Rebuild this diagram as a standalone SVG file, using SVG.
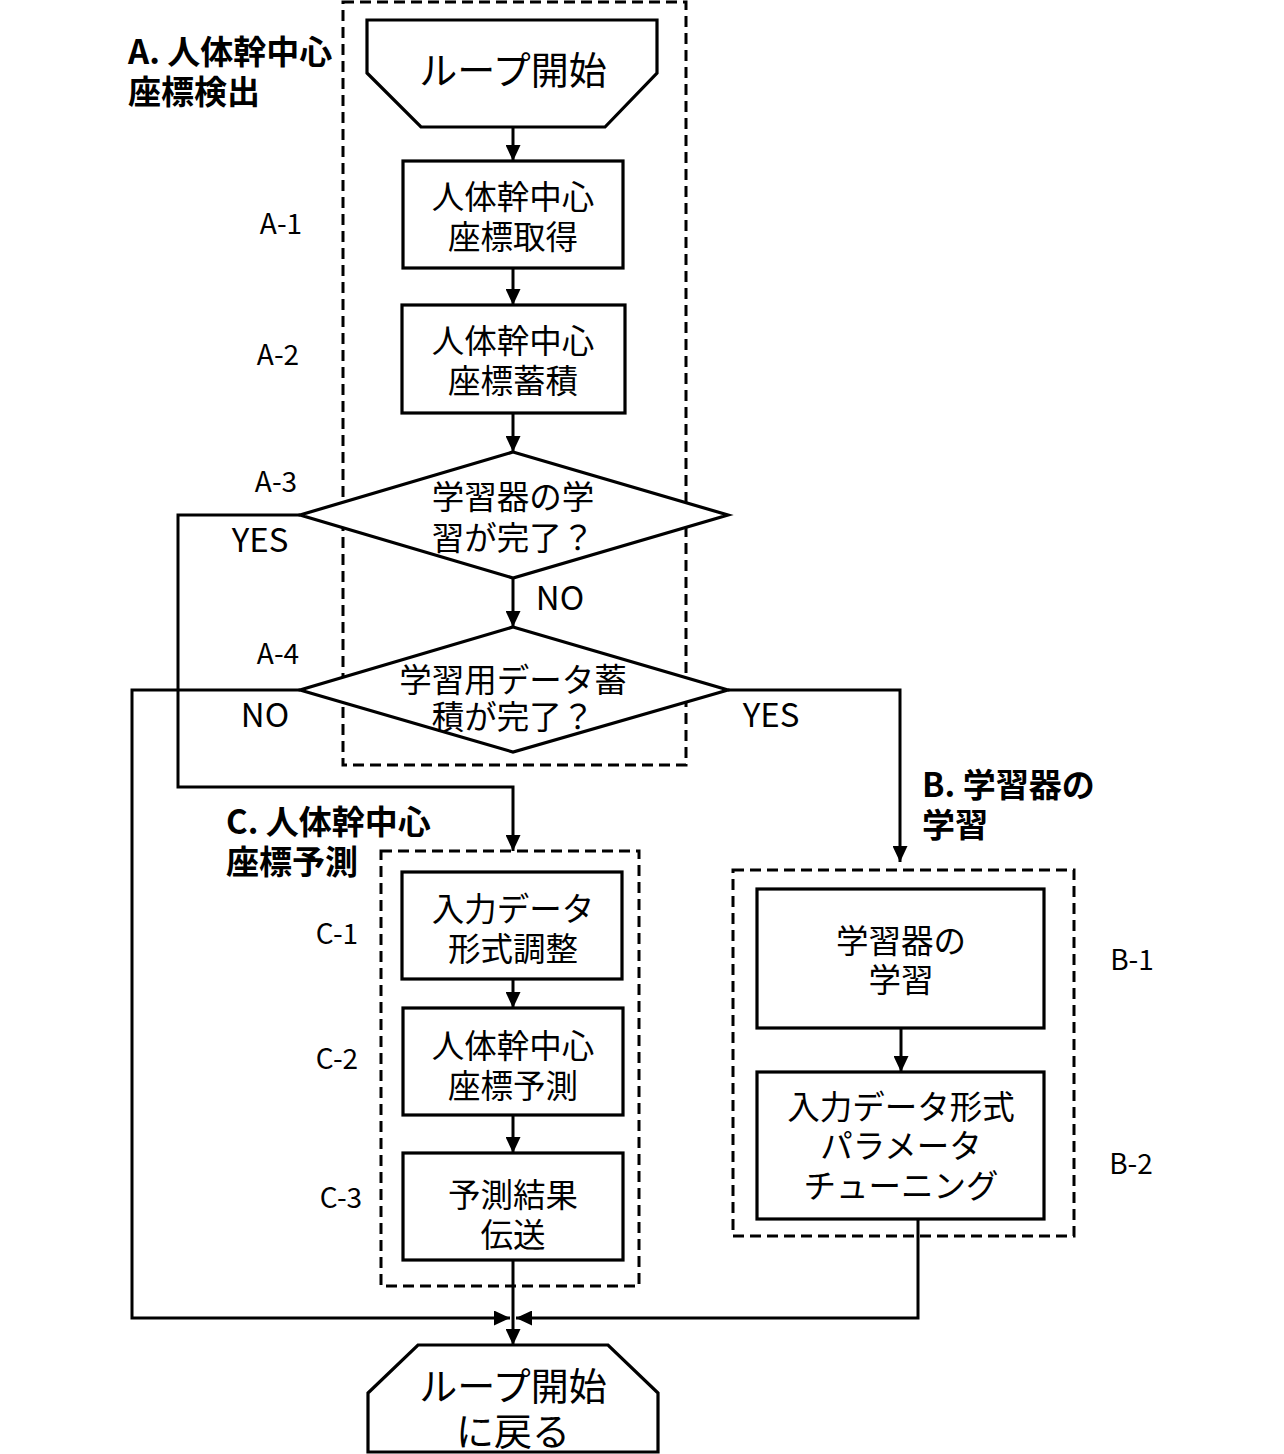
<svg xmlns="http://www.w3.org/2000/svg" width="1284" height="1454" viewBox="0 0 1284 1454">
<style>
.shape{fill:#fff;stroke:#000;stroke-width:3.2}
.dash{fill:none;stroke:#000;stroke-width:3;stroke-dasharray:11 6}
.conn path{fill:none;stroke:#000;stroke-width:3}
text{font-family:"Noto Sans CJK JP","Noto Sans",sans-serif;fill:#000}
.t{font-size:32.5px;text-anchor:middle;dominant-baseline:central}
.big{font-size:38px;text-anchor:middle;dominant-baseline:central}
.h{font-size:33px;font-weight:bold;dominant-baseline:central}
.lab{font-size:28px;text-anchor:middle;dominant-baseline:central}
.yn{font-size:33px;text-anchor:middle;dominant-baseline:central}
</style>
<defs>
<marker id="ah" viewBox="0 0 16 15" markerWidth="16" markerHeight="15" refX="16" refY="7.5" orient="auto" markerUnits="userSpaceOnUse">
<path d="M0,0 L16,7.5 L0,15 z" fill="#000"/>
</marker>
</defs>

<g id="groupA">
<rect class="dash" x="343" y="2" width="343" height="763"/>
<text class="h"><tspan x="128" y="50">A. 人体幹中心</tspan><tspan x="128" y="90">座標検出</tspan></text>
</g>
<g id="groupC">
<rect class="dash" x="381" y="851" width="258" height="435"/>
<text class="h"><tspan x="226" y="820">C. 人体幹中心</tspan><tspan x="226" y="860">座標予測</tspan></text>
</g>
<g id="groupB">
<rect class="dash" x="733" y="870" width="341" height="366"/>
<text class="h"><tspan x="922" y="783">B. 学習器の</tspan><tspan x="922" y="823">学習</tspan></text>
</g>

<g id="start">
<polygon class="shape" points="367,20 657,20 657,73 605,127 421,127 367,73"/>
<text class="big" x="513" y="67">ループ開始</text>
</g>
<g id="A1">
<rect class="shape" x="403" y="161" width="220" height="107"/>
<text class="t"><tspan x="513" y="194">人体幹中心</tspan><tspan x="513" y="234">座標取得</tspan></text>
<text class="lab" x="281" y="222">A-1</text>
</g>
<g id="A2">
<rect class="shape" x="402" y="305" width="223" height="108"/>
<text class="t"><tspan x="513" y="338">人体幹中心</tspan><tspan x="513" y="378">座標蓄積</tspan></text>
<text class="lab" x="278" y="353">A-2</text>
</g>
<g id="A3">
<polygon class="shape" points="513,452 728,515 513,578 300,515"/>
<text class="t"><tspan x="513" y="494">学習器の学</tspan><tspan x="513" y="535">習が完了？</tspan></text>
<text class="lab" x="276" y="480">A-3</text>
</g>
<g id="A4">
<polygon class="shape" points="513,627 728,690 513,752 300,690"/>
<text class="t"><tspan x="513" y="677">学習用データ蓄</tspan><tspan x="513" y="714">積が完了？</tspan></text>
<text class="lab" x="278" y="652">A-4</text>
</g>
<g id="C1">
<rect class="shape" x="402" y="872" width="220" height="107"/>
<text class="t"><tspan x="513" y="906">入力データ</tspan><tspan x="513" y="946">形式調整</tspan></text>
<text class="lab" x="337" y="932">C-1</text>
</g>
<g id="C2">
<rect class="shape" x="403" y="1008" width="220" height="107"/>
<text class="t"><tspan x="513" y="1043">人体幹中心</tspan><tspan x="513" y="1083">座標予測</tspan></text>
<text class="lab" x="337" y="1057">C-2</text>
</g>
<g id="C3">
<rect class="shape" x="403" y="1153" width="220" height="107"/>
<text class="t"><tspan x="513" y="1192">予測結果</tspan><tspan x="513" y="1232">伝送</tspan></text>
<text class="lab" x="341" y="1196">C-3</text>
</g>
<g id="B1">
<rect class="shape" x="757" y="889" width="287" height="139"/>
<text class="t"><tspan x="901" y="938">学習器の</tspan><tspan x="901" y="977">学習</tspan></text>
<text class="lab" x="1132" y="958">B-1</text>
</g>
<g id="B2">
<rect class="shape" x="757" y="1072" width="287" height="147"/>
<text class="t"><tspan x="901" y="1104">入力データ形式</tspan><tspan x="901" y="1143">パラメータ</tspan><tspan x="901" y="1183">チューニング</tspan></text>
<text class="lab" x="1131" y="1162">B-2</text>
</g>
<g id="end">
<polygon class="shape" points="418,1345 608,1345 658,1393 658,1452 368,1452 368,1393"/>
<text class="big"><tspan x="513" y="1383">ループ開始</tspan><tspan x="513" y="1428">に戻る</tspan></text>
</g>

<g id="connectors" class="conn">
<path d="M513,127 V161" marker-end="url(#ah)"/>
<path d="M513,268 V305" marker-end="url(#ah)"/>
<path d="M513,413 V452" marker-end="url(#ah)"/>
<path d="M513,578 V627" marker-end="url(#ah)"/>
<path d="M300,515 H178 V787 H513 V851" marker-end="url(#ah)"/>
<path d="M300,690 H132 V1318 H510" marker-end="url(#ah)"/>
<path d="M728,690 H900 V862" marker-end="url(#ah)"/>
<path d="M513,979 V1008" marker-end="url(#ah)"/>
<path d="M513,1115 V1153" marker-end="url(#ah)"/>
<path d="M513,1260 V1345" marker-end="url(#ah)"/>
<path d="M901,1028 V1072" marker-end="url(#ah)"/>
<path d="M918,1219 V1318 H516" marker-end="url(#ah)"/>
<text class="yn" x="260" y="538">YES</text>
<text class="yn" x="560" y="596">NO</text>
<text class="yn" x="265" y="713">NO</text>
<text class="yn" x="771" y="713">YES</text>
</g>
</svg>
